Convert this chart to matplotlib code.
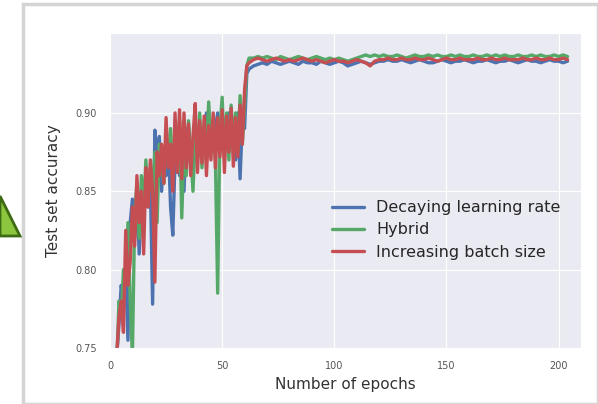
import numpy as np
import matplotlib
matplotlib.use("Agg")
import matplotlib.pyplot as plt
import seaborn as sns
from matplotlib.patches import Polygon, Rectangle

# first epochs, one value per epoch (starting at epoch 3)
decay_early = [0.745, 0.765, 0.790, 0.780, 0.800, 0.755, 0.830, 0.845, 0.820, 0.850,
               0.810, 0.845, 0.830, 0.860, 0.840, 0.855, 0.778, 0.889, 0.870, 0.885,
               0.850, 0.875, 0.860, 0.880, 0.840, 0.822, 0.870, 0.885, 0.860, 0.875,
               0.850, 0.890, 0.870, 0.880, 0.865, 0.895, 0.875, 0.890, 0.870, 0.885,
               0.900, 0.875, 0.895, 0.880, 0.890, 0.900, 0.885, 0.895, 0.880, 0.890,
               0.900, 0.885, 0.895, 0.870, 0.900, 0.858, 0.895, 0.890, 0.925, 0.928]
hybrid_early = [0.740, 0.780, 0.770, 0.800, 0.790, 0.830, 0.780, 0.745, 0.835, 0.855,
                0.820, 0.860, 0.840, 0.870, 0.845, 0.865, 0.850, 0.875, 0.830, 0.880,
                0.865, 0.855, 0.885, 0.870, 0.890, 0.860, 0.880, 0.870, 0.895, 0.833,
                0.880, 0.860, 0.895, 0.875, 0.850, 0.885, 0.870, 0.900, 0.865, 0.890,
                0.875, 0.907, 0.880, 0.895, 0.870, 0.785, 0.890, 0.910, 0.875, 0.900,
                0.870, 0.905, 0.880, 0.900, 0.875, 0.911, 0.880, 0.905, 0.930, 0.935]
batch_early = [0.745, 0.770, 0.780, 0.760, 0.825, 0.790, 0.805, 0.840, 0.815, 0.860,
               0.830, 0.850, 0.810, 0.865, 0.840, 0.870, 0.850, 0.792, 0.875, 0.860,
               0.880, 0.855, 0.897, 0.865, 0.880, 0.850, 0.900, 0.862, 0.902, 0.858,
               0.900, 0.865, 0.893, 0.860, 0.885, 0.906, 0.862, 0.895, 0.868, 0.898,
               0.860, 0.892, 0.870, 0.900, 0.865, 0.897, 0.872, 0.902, 0.862, 0.898,
               0.875, 0.903, 0.866, 0.897, 0.872, 0.905, 0.880, 0.915, 0.930, 0.932]

# plateau, read every second epoch (64 .. 204)
decay_late = [0.930, 0.931, 0.932, 0.931, 0.933, 0.932, 0.931, 0.932, 0.933, 0.932,
              0.931, 0.933, 0.932, 0.932, 0.931, 0.933, 0.932, 0.931, 0.932,
              0.933, 0.932, 0.930, 0.931, 0.932, 0.933, 0.932, 0.931, 0.932, 0.933,
              0.933, 0.934, 0.933, 0.933, 0.934, 0.933, 0.932, 0.933, 0.934, 0.933,
              0.932, 0.932, 0.933, 0.934, 0.933, 0.932, 0.933, 0.933, 0.934, 0.933,
              0.932, 0.933, 0.933, 0.934, 0.933, 0.932, 0.933, 0.933, 0.934, 0.933,
              0.932, 0.933, 0.934, 0.933, 0.933, 0.932, 0.933, 0.934, 0.933, 0.933,
              0.932, 0.933]
hybrid_late = [0.935, 0.936, 0.935, 0.936, 0.935, 0.934, 0.936, 0.935, 0.934, 0.935,
               0.936, 0.935, 0.934, 0.935, 0.936, 0.935, 0.934, 0.935, 0.934,
               0.935, 0.934, 0.933, 0.934, 0.935, 0.936, 0.937, 0.936, 0.937, 0.936,
               0.937, 0.936, 0.936, 0.937, 0.936, 0.935, 0.936, 0.937, 0.936, 0.936,
               0.937, 0.936, 0.937, 0.936, 0.936, 0.937, 0.936, 0.937, 0.936, 0.936,
               0.937, 0.936, 0.936, 0.937, 0.936, 0.937, 0.936, 0.937, 0.936, 0.936,
               0.937, 0.936, 0.936, 0.937, 0.936, 0.937, 0.936, 0.936, 0.937, 0.936,
               0.937, 0.936]
batch_late = [0.934, 0.935, 0.934, 0.933, 0.934, 0.935, 0.934, 0.933, 0.934, 0.933,
              0.934, 0.935, 0.934, 0.933, 0.934, 0.933, 0.932, 0.933, 0.934,
              0.933, 0.933, 0.932, 0.933, 0.934, 0.933, 0.932, 0.930, 0.933, 0.934,
              0.934, 0.935, 0.934, 0.934, 0.935, 0.934, 0.934, 0.935, 0.934, 0.934,
              0.935, 0.934, 0.933, 0.934, 0.935, 0.934, 0.934, 0.935, 0.934, 0.934,
              0.934, 0.935, 0.934, 0.934, 0.935, 0.934, 0.934, 0.935, 0.934, 0.934,
              0.934, 0.935, 0.934, 0.934, 0.935, 0.934, 0.934, 0.935, 0.934, 0.934,
              0.935, 0.934]

labels = ["Decaying learning rate", "Hybrid", "Increasing batch size"]
colors = ["#4C72B0", "#55A868", "#C44E52"]

x_early = np.arange(3, 3 + len(decay_early))
x_late = np.arange(64, 64 + 2 * len(decay_late), 2)
x = np.concatenate([x_early, x_late])

sns.set_style("darkgrid")
fig = plt.figure(figsize=(5.98, 4.04), dpi=100)
fig.patch.set_facecolor("white")

# screenshot card + slide arrow tip
W, H = 598.0, 404.0
fig.patches.append(Rectangle((23 / W, 0), 1 - 23 / W, 1 - 4 / H, transform=fig.transFigure,
                             facecolor="white", edgecolor="#d4d4d4", lw=2.5, zorder=-2))
fig.patches.append(Polygon([(0, 1 - 196 / H), (20 / W, 1 - 236 / H), (0, 1 - 236 / H)],
                           closed=True, transform=fig.transFigure,
                           facecolor="#8cc63f", edgecolor="#3d6b12", lw=2, zorder=-1))

ax = fig.add_axes([110 / W, 1 - 348 / H, 471 / W, 315 / H])
ax.set_zorder(5)
series = [(decay_early, decay_late), (hybrid_early, hybrid_late), (batch_early, batch_late)]
for (e, l), lab, c in zip(series, labels, colors):
    ax.plot(x, np.concatenate([e, l]), color=c, lw=2.4, label=lab)

ax.set_xlim(0, 210)
ax.set_ylim(0.75, 0.951)
ax.set_xticks([0, 50, 100, 150, 200])
ax.set_yticks([0.75, 0.80, 0.85, 0.90])
ax.set_yticklabels(["0.75", "0.80", "0.85", "0.90"])
ax.tick_params(labelsize=7, colors="#555555", pad=6)
ax.set_xlabel("Number of epochs", fontsize=11, color="#333333")
ax.set_ylabel("Test set accuracy", fontsize=11, color="#333333", labelpad=10)

ax.legend(loc="center left", bbox_to_anchor=(0.44, 0.375), frameon=False,
          fontsize=11.5, handlelength=2.0, labelspacing=0.45, handletextpad=0.8)

fig.savefig("out.png", dpi=100)
